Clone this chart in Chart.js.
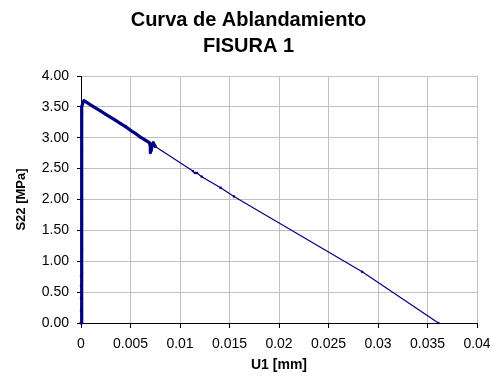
<!DOCTYPE html>
<html>
<head>
<meta charset="utf-8">
<script src="https://cdn.jsdelivr.net/npm/chart.js@4"></script>
<style>
  html, body { margin: 0; padding: 0; background: #fff; }
  #wrap { width: 491px; height: 379px; }
</style>
</head>
<body>
<div id="wrap"><canvas id="chart" width="491" height="379"></canvas></div>
<script>
// values
const U1 = [
  0, 0, 0, 0, 0, 0.0001, 0.0001, 0.0001, 0.0001, 0.0001, 0.0001, 0.0001, 0.0001,
  0.0001, 0.0002, 0.0003, 0.0005, 0.001, 0.0015, 0.002, 0.0025, 0.003, 0.0035,
  0.004, 0.0045, 0.005, 0.0055, 0.006, 0.0065, 0.0069, 0.007, 0.007, 0.0071,
  0.0072, 0.0073, 0.0075, 0.0113, 0.0115, 0.0117, 0.0122, 0.0141, 0.01545,
  0.0284, 0.0361,
];
const S22 = [
  0, 0.2, 0.4, 0.6, 0.76, 0.8, 1.2, 1.6, 2.0, 2.4, 2.8, 3.2, 3.4,
  3.5, 3.57, 3.6, 3.58, 3.53, 3.48, 3.43, 3.38, 3.33, 3.28,
  3.23, 3.18, 3.12, 3.07, 3.01, 2.96, 2.92, 2.86, 2.76, 2.8,
  2.9, 2.92, 2.86, 2.46, 2.43, 2.43, 2.37, 2.19, 2.05,
  0.83, 0,
];
const TITLE_LINES = ["Curva de Ablandamiento", "FISURA 1"];
const X_TITLE = "U1 [mm]";
const Y_TITLE = "S22 [MPa]";

const FONT = "'Liberation Sans', Arial, sans-serif";
const NAVY = "#000080";
const GRID = "#c0c0c0";

const points = U1.map((x, i) => ({ x, y: S22[i] }));

new Chart(document.getElementById("chart"), {
  type: "scatter",
  data: {
    datasets: [
      {
        data: points,
        showLine: true,
        clip: 4,
        borderColor: NAVY,
        backgroundColor: NAVY,
        borderWidth: 1.2,
        borderJoinStyle: "round",
        borderCapStyle: "round",
        pointStyle: "rect",
        pointRadius: 1.6,
        pointBorderWidth: 0,
        segment: {
          // the early part of the curve is very dense and looks thick
          borderWidth: (ctx) => (ctx.p1.parsed.x <= 0.0075 ? 3.2 : 1.2),
        },
      },
    ],
  },
  options: {
    responsive: false,
    animation: false,
    layout: { padding: { left: 20, right: 14, top: 0, bottom: 0 } },
    plugins: {
      legend: { display: false },
      tooltip: { enabled: false },
      title: {
        display: true,
        text: TITLE_LINES,
        color: "#000",
        font: { family: FONT, size: 20, weight: "bold", lineHeight: 1.3 },
        padding: { top: 7, bottom: 17 },
      },
    },
    scales: {
      x: {
        type: "linear",
        min: 0,
        max: 0.04,
        afterFit: (scale) => {
          scale.height = 56;
          scale.paddingLeft = 0;
          scale.paddingRight = 0;
        },
        ticks: {
          stepSize: 0.005,
          color: "#000",
          padding: 8,
          maxRotation: 0,
          font: { family: FONT, size: 14 },
          callback: (v) => String(Number(v.toFixed(3))),
        },
        grid: { color: GRID, tickColor: "#000", tickLength: 5 },
        border: { color: "#000", width: 1 },
        title: {
          display: true,
          text: X_TITLE,
          color: "#000",
          font: { family: FONT, size: 14, weight: "bold" },
          padding: { top: 2, bottom: 5 },
        },
      },
      y: {
        type: "linear",
        min: 0,
        max: 4,
        afterFit: (scale) => { scale.width = 61; },
        ticks: {
          stepSize: 0.5,
          color: "#000",
          padding: 8,
          font: { family: FONT, size: 14 },
          callback: (v) => v.toFixed(2),
        },
        grid: { color: GRID, tickColor: "#000", tickLength: 4 },
        border: { color: "#000", width: 1 },
        title: {
          display: true,
          text: Y_TITLE,
          color: "#000",
          font: { family: FONT, size: 13, weight: "bold" },
          padding: { top: -6, bottom: 0 },
        },
      },
    },
  },
});
</script>
</body>
</html>
